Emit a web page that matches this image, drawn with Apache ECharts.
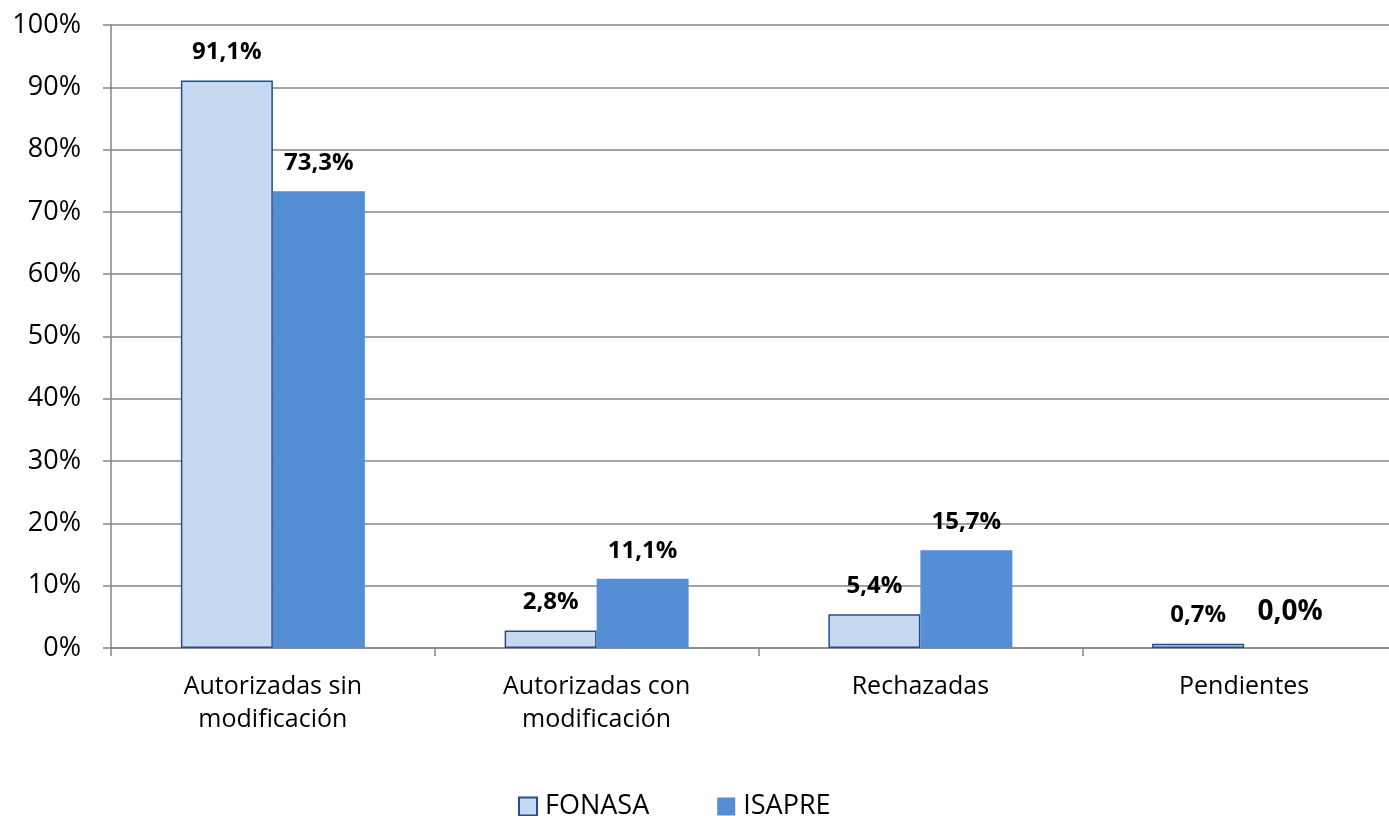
<!DOCTYPE html>
<html><head><meta charset="utf-8">
<script src="https://cdn.jsdelivr.net/npm/echarts@6/dist/echarts.min.js"></script>
<style>html,body{margin:0;padding:0;background:#fff}#c{width:1389px;height:816px}</style>
</head><body><div id="c"></div>
<script>
const categories = ['Autorizadas sin\nmodificación', 'Autorizadas con\nmodificación', 'Rechazadas', 'Pendientes'];
const fonasa = [91.1, 2.8, 5.4, 0.7];
const isapre = [73.3, 11.1, 15.7, 0.0];
const seriesNames = ['FONASA', 'ISAPRE'];

const fmt = v => v.toFixed(1).replace('.', ',') + '%';
const font = 'Open Sans';
const chart = echarts.init(document.getElementById('c'));
const isapreData = isapre.map(v => v === 0 ? { value: v, label: { fontSize: 28, distance: 22 } } : v);
chart.setOption({
  animation: false,
  textStyle: { fontFamily: font },
  grid: { left: 111, top: 25, width: 1295, height: 623, containLabel: false, outerBoundsMode: 'none' },
  legend: {
    top: 788, left: 513,
    icon: 'rect',
    itemWidth: 18, itemHeight: 18, itemGap: 68,
    textStyle: { fontSize: 27, color: '#000', fontFamily: font, padding: [0, 0, 0, 3] },
    data: seriesNames
  },
  xAxis: {
    type: 'category', data: categories,
    axisLine: { lineStyle: { color: '#868686', width: 1.5 } },
    axisTick: { show: true, length: 8, lineStyle: { color: '#868686', width: 1.5 } },
    axisLabel: { fontSize: 25, color: '#000', lineHeight: 33, margin: 22, fontFamily: font }
  },
  yAxis: {
    type: 'value', min: 0, max: 100, interval: 10,
    axisLine: { show: true, lineStyle: { color: '#868686', width: 1.5 } },
    axisTick: { show: true, length: 8, lineStyle: { color: '#868686', width: 1.5 } },
    splitLine: { lineStyle: { color: '#868686', width: 1.5 } },
    axisLabel: { formatter: '{value}%', fontSize: 27, color: '#000', margin: 30, fontFamily: font }
  },
  series: [
    {
      name: seriesNames[0], type: 'bar', data: fonasa,
      barWidth: 92, barGap: '0%',
      itemStyle: { color: '#C6D9F1', borderColor: '#254F8C', borderWidth: 1.5 },
      label: { show: true, position: 'top', distance: 16, fontSize: 24, fontWeight: 'bold', color: '#000', fontFamily: font,
        formatter: p => fmt(p.value) }
    },
    {
      name: seriesNames[1], type: 'bar', data: isapreData,
      barWidth: 92, barGap: '0%',
      itemStyle: { color: '#558ED5' },
      label: { show: true, position: 'top', distance: 16, fontSize: 24, fontWeight: 'bold', color: '#000', fontFamily: font,
        formatter: p => fmt(p.value) }
    }
  ]
});
</script></body></html>
